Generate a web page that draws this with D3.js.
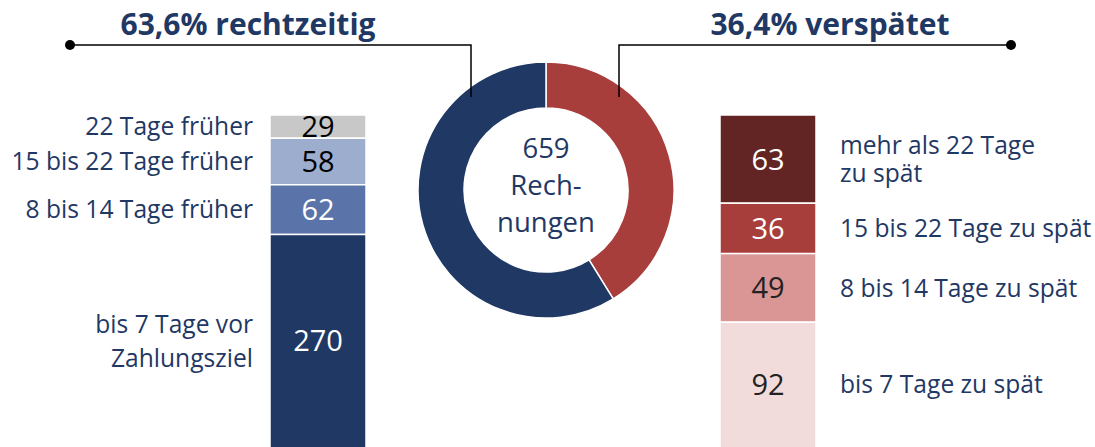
<!DOCTYPE html>
<html>
<head>
<meta charset="utf-8">
<script src="https://cdn.jsdelivr.net/npm/d3@7"></script>
<style>
  body { margin: 0; background: #fff; }
  svg { display: block; font-family: "Open Sans", Lato, sans-serif; }
  .label { fill: #1f3864; font-size: 24.6px; }
  .value { font-size: 29px; }
  .title { fill: #1f3864; font-size: 30px; font-weight: bold; }
</style>
</head>
<body>
<svg width="1095" height="447"></svg>
<script>
// vorher bezahlt (oben nach unten)
const earlyLabels = [['22 Tage früher'], ['15 bis 22 Tage früher'], ['8 bis 14 Tage früher'], ['bis 7 Tage vor', 'Zahlungsziel']]
const earlyValues = [29, 58, 62, 270]
const earlyColors = ['#c8c8c8', '#9dadce', '#5a74a9', '#203864']
const earlyText = ['#000', '#000', '#fff', '#fff']

// zu spaet bezahlt (oben nach unten)
const lateLabels = [['mehr als 22 Tage', 'zu spät'], ['15 bis 22 Tage zu spät'], ['8 bis 14 Tage zu spät'], ['bis 7 Tage zu spät']]
const lateValues = [63, 36, 49, 92]
const lateColors = ['#632523', '#a83e3c', '#d99694', '#f2dcdb']
const lateText = ['#fff', '#fff', '#222', '#222']

// ring (anteil in %): verspätet, rechtzeitig
const donutShares = [41.2, 58.8]
const donutColors = ['#a83e3c', '#203864']
const titles = ['63,6% rechtzeitig', '36,4% verspätet']
const centerLines = ['659', 'Rech-', 'nungen']

const svg = d3.select('svg')
const barTop = 115
const barHeight = 336
const barWidth = 96

function drawBar(values, labels, colors, textColors, x0, labelSide, lineGap) {
  const y = d3.scaleLinear().domain([0, d3.sum(values)]).range([barTop, barTop + barHeight])
  const starts = [0, ...d3.cumsum(values)]
  const rows = values.map((v, i) => ({ v, start: starts[i], end: starts[i + 1], i }))
  const mid = d => (y(d.start) + Math.min(y(d.end), 447)) / 2

  const g = svg.append('g')
  g.selectAll('rect')
    .data(rows)
    .enter()
    .append('rect')
    .attr('x', x0)
    .attr('y', d => y(d.start))
    .attr('width', barWidth)
    .attr('height', d => y(d.end) - y(d.start))
    .attr('fill', d => colors[d.i])
    .attr('stroke', '#fff')
    .attr('stroke-width', 1.5)

  // zahlen in den balken
  g.selectAll('.value')
    .data(rows)
    .enter()
    .append('text')
    .attr('class', 'value')
    .attr('x', x0 + barWidth / 2)
    .attr('y', mid)
    .attr('dy', '0.36em')
    .attr('text-anchor', 'middle')
    .attr('fill', d => textColors[d.i])
    .text(d => d.v)

  // beschriftung neben dem balken
  const lab = g.selectAll('.label')
    .data(rows)
    .enter()
    .append('text')
    .attr('class', 'label')
    .attr('text-anchor', labelSide === 'left' ? 'end' : 'start')
    .attr('x', labelSide === 'left' ? x0 - 17 : x0 + barWidth + 24)
    .attr('y', mid)

  lab.selectAll('tspan')
    .data(d => labels[d.i].map((t, k, arr) => ({ t, k, n: arr.length })))
    .enter()
    .append('tspan')
    .attr('x', function () { return d3.select(this.parentNode).attr('x') })
    .attr('dy', d => d.k === 0 ? (0.36 - (d.n - 1) * lineGap / 2) + 'em' : lineGap + 'em')
    .text(d => d.t)
}

drawBar(earlyValues, earlyLabels, earlyColors, earlyText, 270, 'left', 1.38)
drawBar(lateValues, lateLabels, lateColors, lateText, 720, 'right', 1.14)

// ring
const cx = 546, cy = 190
const pie = d3.pie().sort(null).value(d => d)
const arc = d3.arc().innerRadius(82).outerRadius(128)
const donut = svg.append('g').attr('transform', `translate(${cx},${cy})`)
donut.selectAll('path')
  .data(pie(donutShares))
  .enter()
  .append('path')
  .attr('d', arc)
  .attr('fill', (d, i) => donutColors[i])
  .attr('stroke', '#fff')
  .attr('stroke-width', 1.5)

const center = donut.append('text')
  .attr('class', 'label')
  .attr('text-anchor', 'middle')
  .style('font-size', '27.5px')
center.selectAll('tspan')
  .data(centerLines)
  .enter()
  .append('tspan')
  .attr('x', 0)
  .attr('y', (d, i) => -32 + i * 37)
  .text(d => d)

// callouts
const lines = svg.append('g').attr('fill', 'none').attr('stroke', '#000').attr('stroke-width', 1.5)
lines.append('path').attr('d', 'M70,45H471V97')
lines.append('path').attr('d', 'M619,97V45H1011')
svg.append('circle').attr('cx', 70).attr('cy', 45).attr('r', 5)
svg.append('circle').attr('cx', 1011).attr('cy', 45).attr('r', 5)

svg.selectAll('.title')
  .data(titles)
  .enter()
  .append('text')
  .attr('class', 'title')
  .attr('x', (d, i) => [248, 830][i])
  .attr('y', 35)
  .attr('text-anchor', 'middle')
  .text(d => d)
</script>
</body>
</html>
